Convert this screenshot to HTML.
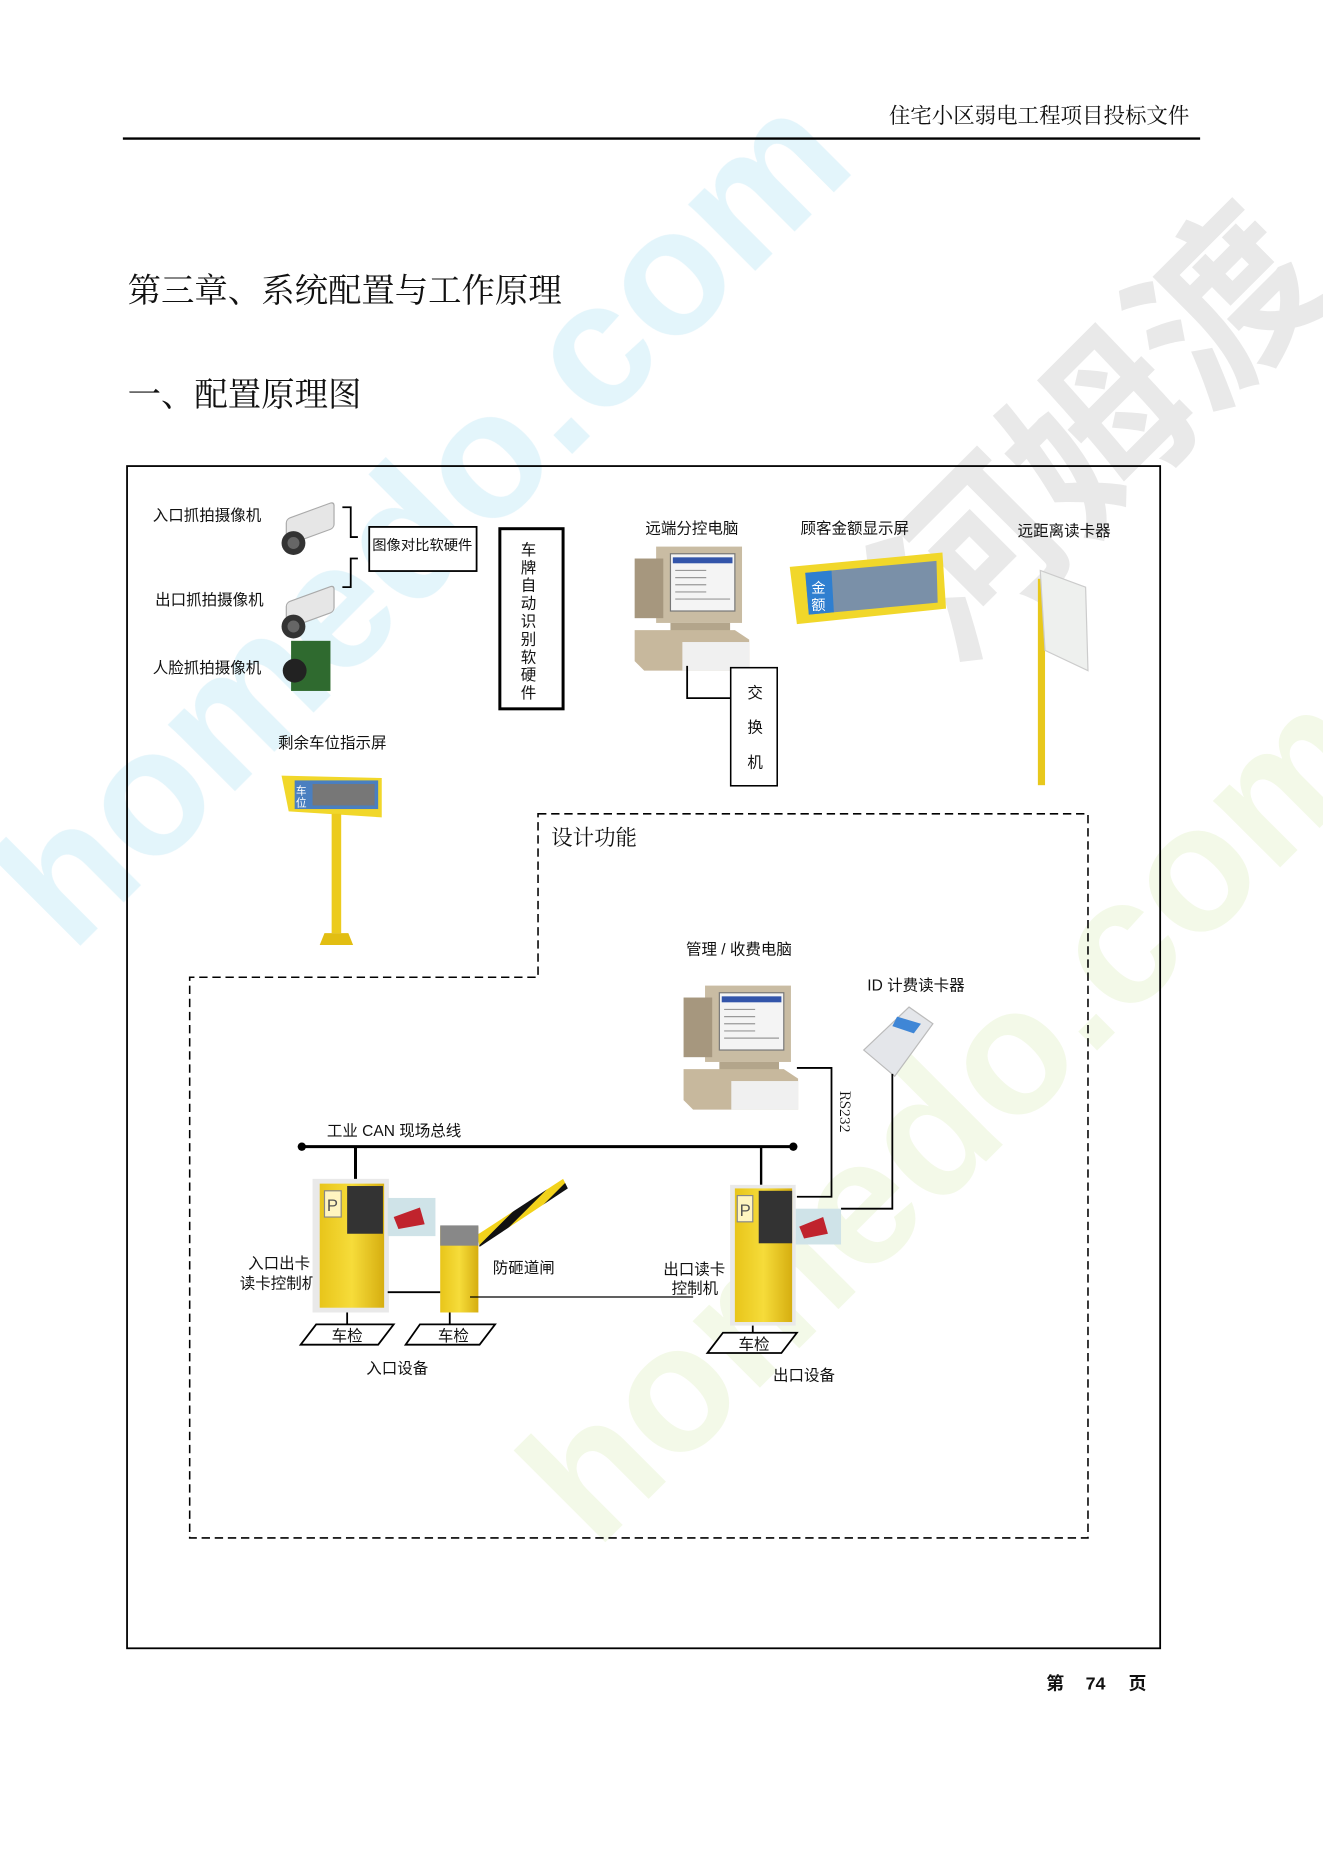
<!DOCTYPE html>
<html><head><meta charset="utf-8"><style>
html,body{margin:0;padding:0;background:#fff;}
svg{display:block;}
text{font-family:"Liberation Sans","Noto Sans CJK SC",sans-serif;fill:#111;}
.s{font-family:"Noto Serif CJK SC","Liberation Serif",serif;}
</style></head><body>
<svg width="1323" height="1871" viewBox="0 0 1109 1568" xmlns="http://www.w3.org/2000/svg">
<defs>
<linearGradient id="yl" x1="0" x2="1"><stop offset="0" stop-color="#e8c51a"/><stop offset="0.5" stop-color="#f6dc3a"/><stop offset="1" stop-color="#d6ae10"/></linearGradient>
<pattern id="stripe" width="14" height="14" patternUnits="userSpaceOnUse" patternTransform="rotate(45)"><rect width="7" height="14" fill="#111"/><rect x="7" width="7" height="14" fill="#f2d21b"/></pattern>
<g id="cam"><rect x="0" y="0" width="40" height="22" rx="3" fill="#e6e6e6" stroke="#aaa" transform="skewY(-20)"/><circle cx="6" cy="20" r="10" fill="#333"/><circle cx="6" cy="20" r="5" fill="#666"/></g>
<g id="pc"><rect x="18" y="0" width="72" height="64" fill="#c9bca3"/><rect x="0" y="10" width="24" height="50" fill="#a6977e"/><rect x="30" y="6" width="54" height="48" fill="#f4f4f4" stroke="#777"/><rect x="32" y="9" width="50" height="5" fill="#3355aa"/><g stroke="#999" stroke-width="1"><line x1="34" y1="20" x2="60" y2="20"/><line x1="34" y1="26" x2="60" y2="26"/><line x1="34" y1="32" x2="60" y2="32"/><line x1="34" y1="38" x2="60" y2="38"/><line x1="34" y1="44" x2="80" y2="44"/></g><rect x="30" y="64" width="50" height="8" fill="#b3a58b"/><path d="M0 70 L84 70 L96 78 L96 104 L8 104 L0 96Z" fill="#c7b89d"/><rect x="40" y="80" width="56" height="24" fill="#f0f0f0"/></g>
</defs>

<!-- faint watermarks -->
<g opacity="0.12" font-size="150" font-weight="bold">
<text x="0" y="0" fill="#18a7d9" transform="translate(60,800) rotate(-45)" style="fill:#18a7d9">homedo.com</text>
<text x="0" y="0" transform="translate(500,1300) rotate(-45)" style="fill:#9ccc3c">homedo.com</text>
<text x="0" y="0" transform="translate(800,560) rotate(-45)" style="fill:#444">河姆渡</text>
</g>

<!-- header -->
<text x="997" y="103" font-size="18" text-anchor="end" class="s">住宅小区弱电工程项目投标文件</text>
<line x1="103" y1="116" x2="1006" y2="116" stroke="#000" stroke-width="2"/>
<text x="107" y="253" font-size="28" class="s">第三章、系统配置与工作原理</text>
<text x="107" y="340" font-size="28" class="s">一、配置原理图</text>

<!-- frame -->
<rect x="106.5" y="390.5" width="866" height="991" fill="none" stroke="#000" stroke-width="1.5"/>
<path d="M451 682 L912 682 L912 1289 L159 1289 L159 819 L451 819 Z" fill="none" stroke="#000" stroke-width="1.3" stroke-dasharray="7,4"/>
<text x="462" y="708" font-size="18" class="s">设计功能</text>

<!-- cameras -->
<g font-size="13">
<text x="128" y="436">入口抓拍摄像机</text>
<text x="130" y="507">出口抓拍摄像机</text>
<text x="128" y="564">人脸抓拍摄像机</text>
<text x="233" y="627">剩余车位指示屏</text>
<text x="541" y="447">远端分控电脑</text>
<text x="671" y="447">顾客金额显示屏</text>
<text x="853" y="449">远距离读卡器</text>
<text x="575" y="800">管理 / 收费电脑</text>
<text x="727" y="830">ID 计费读卡器</text>
<text x="274" y="952">工业 CAN 现场总线</text>
<text x="208" y="1063">入口出卡</text>
<text x="201" y="1080">读卡控制机</text>
<text x="413" y="1067">防砸道闸</text>
<text x="556" y="1068">出口读卡</text>
<text x="563" y="1084">控制机</text>
<text x="307" y="1151">入口设备</text>
<text x="648" y="1157">出口设备</text>
</g>
<use href="#cam" x="240" y="435"/>
<use href="#cam" x="240" y="505"/>
<rect x="244" y="537" width="33" height="42" fill="#2f6a2f"/><circle cx="247" cy="562" r="10" fill="#222"/>

<path d="M287 425 H294 V450 H300" fill="none" stroke="#000" stroke-width="1.5"/>
<path d="M300 468 H294 V492 H287" fill="none" stroke="#000" stroke-width="1.5"/>
<rect x="309.5" y="441.5" width="90" height="37" fill="#fff" stroke="#000" stroke-width="1.5"/>
<text x="354" y="461" font-size="12" text-anchor="middle">图像对比软硬件</text>
<rect x="419" y="443" width="53" height="151" fill="#fff" stroke="#000" stroke-width="2.5"/>
<g font-size="13" text-anchor="middle">
<text x="443" y="465">车</text><text x="443" y="480">牌</text><text x="443" y="495">自</text><text x="443" y="510">动</text><text x="443" y="525">识</text><text x="443" y="540">别</text><text x="443" y="555">软</text><text x="443" y="570">硬</text><text x="443" y="585">件</text>
</g>

<!-- remote pc -->
<use href="#pc" x="532" y="458"/>
<path d="M576 558 V585 H612" fill="none" stroke="#000" stroke-width="1.5"/>
<rect x="612.5" y="559.5" width="39" height="99" fill="#fff" stroke="#000" stroke-width="1.3"/>
<g font-size="13" text-anchor="middle"><text x="633" y="585">交</text><text x="633" y="614">换</text><text x="633" y="643">机</text></g>

<!-- amount display -->
<path d="M662 475 L790 463 L793 510 L668 523 Z" fill="#f1d72a"/>
<path d="M675 480 L785 470 L786 505 L678 515 Z" fill="#7a90a8"/>
<path d="M675 480 L697 478 L699 513 L678 515 Z" fill="#2f7fd0"/>
<text x="680" y="497" font-size="12" style="fill:#fff">金</text><text x="680" y="511" font-size="12" style="fill:#fff">额</text>

<!-- reader pole -->
<rect x="870" y="485" width="6" height="173" fill="#e8c81c"/>
<path d="M872 478 L910 492 L912 562 L876 545 Z" fill="#eef0ee" stroke="#ccc"/>

<!-- parking sign -->
<path d="M236 650 L320 652 L320 685 L242 680 Z" fill="#f1d72a"/>
<rect x="247" y="654" width="70" height="24" fill="#4a7fc0"/>
<rect x="262" y="657" width="52" height="18" fill="#777"/>
<text x="248" y="666" font-size="9" style="fill:#fff">车</text><text x="248" y="676" font-size="9" style="fill:#fff">位</text>
<rect x="278" y="682" width="8" height="100" fill="#eccb1e"/>
<path d="M272 782 L292 782 L296 792 L268 792 Z" fill="#e2be12"/>

<!-- management pc -->
<use href="#pc" x="573" y="826"/>
<path d="M724 880 L762 844 L782 858 L750 902 Z" fill="#e4e6ea" stroke="#bbb"/>
<path d="M752 852 L772 858 L766 866 L748 860Z" fill="#3f86d6"/>
<path d="M668 895 H697 V1003 H668" fill="none" stroke="#000" stroke-width="1.5"/>
<path d="M748 900 V1013 H705" fill="none" stroke="#000" stroke-width="1.5"/>
<text x="0" y="0" font-size="12" transform="translate(704,914) rotate(90)" class="s">RS232</text>

<!-- bus -->
<line x1="253" y1="961" x2="665" y2="961" stroke="#000" stroke-width="2.5"/>
<circle cx="253" cy="961" r="3.5"/><circle cx="665" cy="961" r="3.5"/>
<line x1="298" y1="961" x2="298" y2="990" stroke="#000" stroke-width="2.5"/>
<line x1="638" y1="961" x2="638" y2="993" stroke="#000" stroke-width="2"/>

<!-- entry machine -->
<rect x="262" y="988" width="64" height="112" fill="#e9e9e9"/>
<rect x="268" y="992" width="54" height="104" fill="url(#yl)"/>
<rect x="291" y="994" width="30" height="40" fill="#333"/>
<rect x="272" y="998" width="14" height="22" fill="#fff5c0" stroke="#888"/><text x="274" y="1015" font-size="14" style="fill:#555">P</text>
<rect x="325" y="1004" width="40" height="32" fill="#cfe3e8"/><path d="M330 1020 L352 1012 L356 1026 L334 1030Z" fill="#c0232d"/>
<!-- barrier -->
<path d="M400 1035 L472 988 L476 996 L402 1045 Z" fill="url(#stripe)"/>
<rect x="369" y="1028" width="32" height="72" fill="url(#yl)"/>
<rect x="369" y="1027" width="32" height="17" fill="#888"/>
<line x1="325" y1="1083" x2="369" y2="1083" stroke="#000" stroke-width="1.5"/>
<line x1="394" y1="1087" x2="581" y2="1087" stroke="#000" stroke-width="1"/>

<!-- exit machine -->
<rect x="612" y="993" width="55" height="118" fill="#e9e9e9"/>
<rect x="616" y="996" width="48" height="112" fill="url(#yl)"/>
<rect x="636" y="998" width="28" height="44" fill="#333"/>
<rect x="618" y="1002" width="13" height="22" fill="#fff5c0" stroke="#888"/><text x="620" y="1019" font-size="14" style="fill:#555">P</text>
<rect x="667" y="1013" width="38" height="30" fill="#cfe3e8"/><path d="M670 1028 L690 1020 L694 1034 L674 1038Z" fill="#c0232d"/>

<!-- vehicle detectors -->
<g fill="#fff" stroke="#000" stroke-width="1.5">
<line x1="291" y1="1100" x2="291" y2="1110"/><line x1="377" y1="1100" x2="377" y2="1110"/><line x1="631" y1="1111" x2="631" y2="1117"/>
<path d="M265 1110 L330 1110 L317 1127 L252 1127Z"/>
<path d="M352 1110 L415 1110 L402 1127 L340 1127Z"/>
<path d="M606 1117 L668 1117 L655 1134 L593 1134Z"/>
</g>
<g font-size="13" text-anchor="middle"><text x="291" y="1124">车检</text><text x="380" y="1124">车检</text><text x="632" y="1131">车检</text></g>

<!-- footer -->
<text x="877" y="1416" font-size="15" font-weight="bold">第</text>
<text x="910" y="1416" font-size="15" font-weight="bold">74</text>
<text x="946" y="1416" font-size="15" font-weight="bold">页</text>
</svg>
</body></html>
